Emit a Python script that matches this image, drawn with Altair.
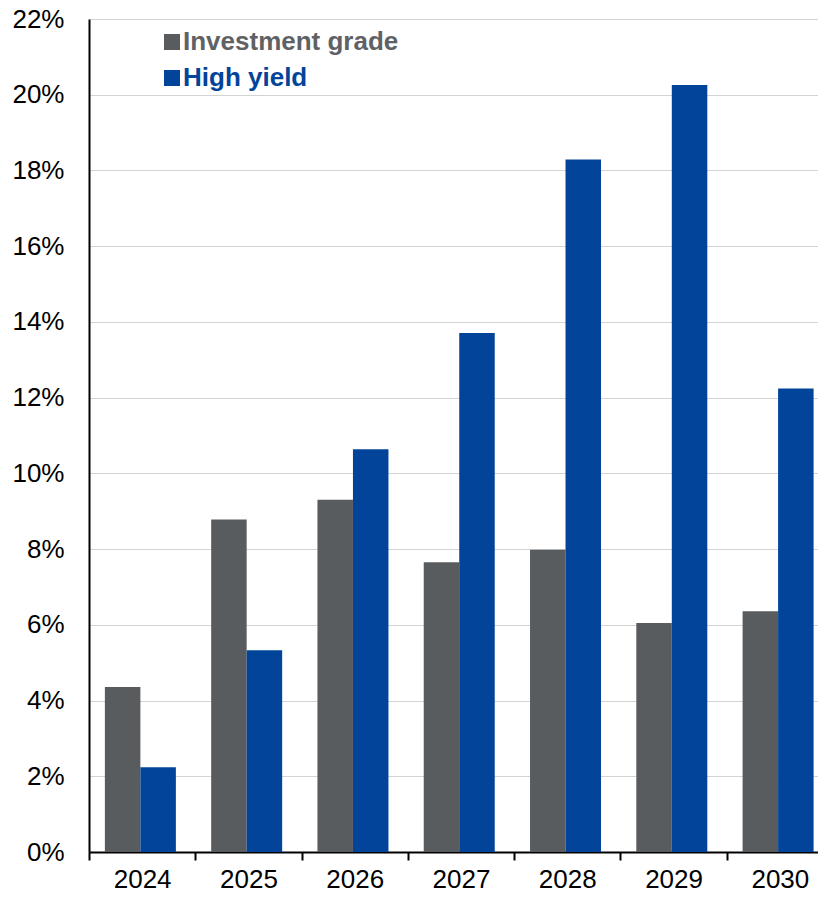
import altair as alt
import pandas as pd

years = ["2024", "2025", "2026", "2027", "2028", "2029", "2030"]
investment_grade = [4.36, 8.78, 9.30, 7.65, 7.98, 6.05, 6.36]
high_yield = [2.24, 5.33, 10.64, 13.71, 18.29, 20.26, 12.24]
series = ["Investment grade", "High yield"]
colors = ["#595C5F", "#02449A"]
y_ticks = list(range(0, 23, 2))

rows = []
for i, yr in enumerate(years):
    rows.append({"year": yr, "series": series[0], "value": investment_grade[i]})
    rows.append({"year": yr, "series": series[1], "value": high_yield[i]})
df = pd.DataFrame(rows)

FONT = "Liberation Sans"

chart = alt.Chart(df).mark_bar().encode(
    x=alt.X(
        "year:N", sort=years, title=None,
        scale=alt.Scale(paddingInner=0, paddingOuter=0, range=[0, 744]),
        axis=alt.Axis(
            labelAngle=0, labelFontSize=26, labelColor="black", labelPadding=6,
            labelFont=FONT, domainColor="black", domainWidth=2,
            tickColor="black", tickWidth=2, tickSize=8, tickBand="extent", grid=False,
        ),
    ),
    xOffset=alt.XOffset("series:N", sort=series,
                        scale=alt.Scale(paddingInner=0, paddingOuter=0.497, align=0.45)),
    y=alt.Y(
        "value:Q", title=None,
        scale=alt.Scale(domain=[0, 22], nice=False),
        axis=alt.Axis(
            values=y_ticks, labelExpr="datum.value + '%'", labelFontSize=26,
            labelFont=FONT, labelColor="black", labelPadding=25, ticks=False,
            domainColor="black", domainWidth=2, gridColor="#D3D3D3", gridWidth=1,
        ),
    ),
    color=alt.Color(
        "series:N", sort=series,
        scale=alt.Scale(domain=series, range=colors),
        legend=alt.Legend(
            title=None, orient="none", legendX=70, legendY=10, direction="vertical",
            symbolType="square", symbolSize=256, symbolStrokeWidth=0,
            labelFontSize=26, labelFontWeight="bold", labelFont=FONT, labelLimit=0,
            labelColor={"expr": "datum.value == 'High yield' ? '#02449A' : '#5F6265'"},
            rowPadding=10, labelOffset={"expr": "-2"}, padding=0,
        ),
    ),
).properties(
    width=729, height=833,
    autosize=alt.AutoSizeParams(type="none"),
    padding={"left": 81, "top": 11, "right": 0, "bottom": 41},
).configure_view(stroke=None).configure(background="white")

chart.save("out.html", embed_options={"renderer": "svg", "actions": False})
